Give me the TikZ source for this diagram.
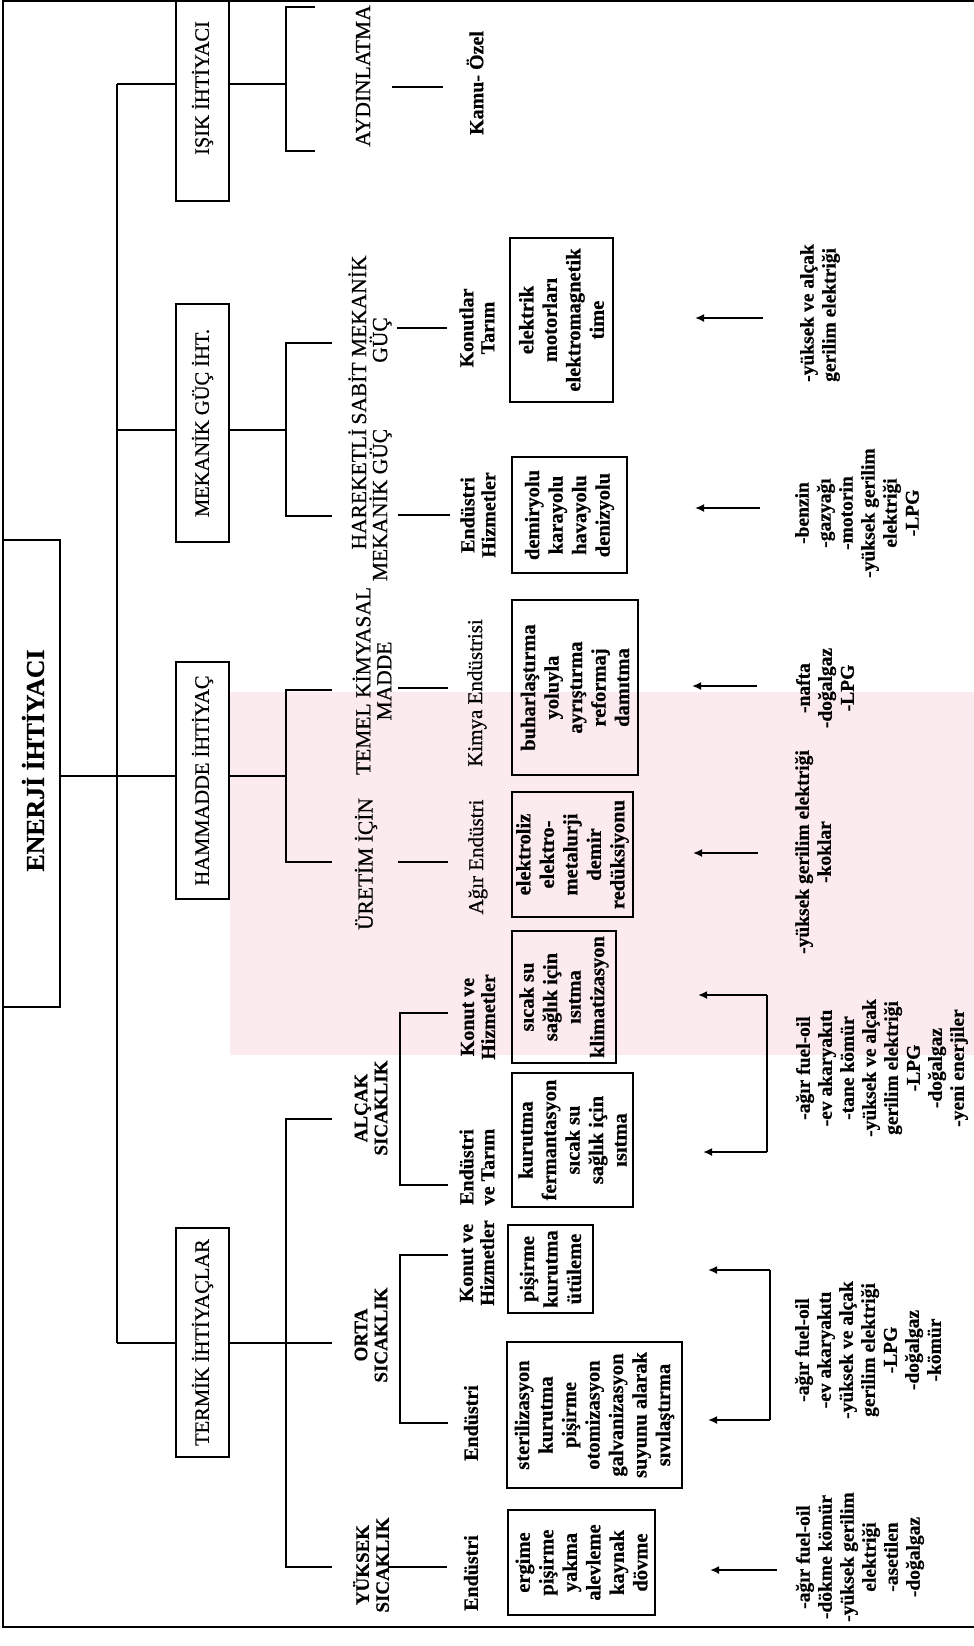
\documentclass[tikz,border=0pt]{standalone}
\usepackage{fontspec}
\setmainfont{Liberation Serif}[UprightFeatures={FakeBold=0.6},BoldFeatures={FakeBold=0.6}]
\usetikzlibrary{arrows.meta}
\definecolor{wmpink}{HTML}{FCEBEE}
\begin{document}
\begin{tikzpicture}[x=1pt,y=1pt,
  ln/.style={line width=1.2pt},
  frameline/.style={line width=2pt},
  lvlbox/.style={draw, line width=1.2pt, rotate=90, inner sep=0pt, minimum height=53pt, font=\fontsize{20.5pt}{24pt}\selectfont},
  lvlboxtext/.style={rotate=90, inner sep=0pt, font=\fontsize{20.5pt}{24pt}\selectfont},
  lvltwo/.style={rotate=90, inner sep=0pt, align=center, font=\fontsize{21.5pt}{21pt}\selectfont},
  lvltwob/.style={rotate=90, inner sep=0pt, align=center, font=\fontsize{19pt}{20pt}\selectfont\bfseries},
  lvlthree/.style={rotate=90, inner sep=0pt, align=center, font=\fontsize{21pt}{21pt}\selectfont},
  lvlthreeb/.style={rotate=90, inner sep=0pt, align=center, font=\fontsize{20pt}{21pt}\selectfont\bfseries},
  itembox/.style={draw, line width=1.2pt, rotate=90, inner sep=0pt, align=center, font=\fontsize{20.5pt}{23.5pt}\selectfont\bfseries},
  srclist/.style={rotate=90, inner sep=0pt, align=center, font=\fontsize{19.5pt}{22pt}\selectfont\bfseries},
  arr/.style={line width=1.8pt, -{Latex[length=9pt,width=8pt]}},
]
\useasboundingbox (0,0) rectangle (974,-1646);
\fill[white] (0,0) rectangle (974,-1646);
% faint watermark of the scanned page
\fill[wmpink] (230,-692) rectangle (974,-1055);
% frame
\draw[frameline] (3,-1) rectangle (990,-1627);

% level 0
\node[draw, line width=1.2pt, rotate=90, minimum width=467pt, minimum height=57pt, inner sep=0pt] (enerji) at (31.5,-773.5) {};
\node[rotate=90, inner sep=0pt, font=\fontsize{25.8pt}{28pt}\selectfont\bfseries] (enerjiT) at (33,-760.5) {ENERJİ İHTİYACI};

% level 1
\node[lvlbox, minimum width=200pt] (isik) at (202.5,-101) {};
\node[lvlboxtext] (isikT) at (202.5,-88) {IŞIK İHTİYACI};
\node[lvlbox, minimum width=238pt] (mekanik) at (202.5,-423) {MEKANİK GÜÇ İHT.};
\node[lvlbox, minimum width=237pt, fill=white] (hammadde) at (202.5,-780.5) {HAMMADDE İHTİYAÇ};
\node[lvlbox, minimum width=229pt] (termik) at (202.5,-1342.5) {TERMİK İHTİYAÇLAR};

% trunk
\coordinate (tTop) at (117,-84);
\coordinate (tMek) at (117,-430);
\coordinate (tHam) at (117,-776);
\coordinate (tBot) at (117,-1343);
\draw[ln] (tTop) -- (tBot);
\draw[ln] (enerji.south |- tHam) -- (tHam) -- (hammadde.north |- tHam);
\draw[ln] (tTop) -- (isik.north |- tTop);
\draw[ln] (tMek) -- (mekanik.north |- tMek);
\draw[ln] (tBot) -- (termik.north |- tBot);

% brackets right of level 1
\coordinate (bI) at (286,-84);
\coordinate (bIt) at (286,-7);   \coordinate (bItE) at (315,-7);
\coordinate (bIb) at (286,-151); \coordinate (bIbE) at (315,-151);
\draw[ln] (isik.south |- bI) -- (bI);
\draw[ln] (bItE) -- (bIt) -- (bIb) -- (bIbE);

\coordinate (bM) at (286,-430);
\coordinate (bMt) at (286,-343); \coordinate (bMtE) at (332,-343);
\coordinate (bMb) at (286,-516); \coordinate (bMbE) at (332,-516);
\draw[ln] (mekanik.south |- bM) -- (bM);
\draw[ln] (bMtE) -- (bMt) -- (bMb) -- (bMbE);

\coordinate (bH) at (286,-776);
\coordinate (bHt) at (286,-690); \coordinate (bHtE) at (332,-690);
\coordinate (bHb) at (286,-862); \coordinate (bHbE) at (332,-862);
\draw[ln] (hammadde.south |- bH) -- (bH);
\draw[ln] (bHtE) -- (bHt) -- (bHb) -- (bHbE);

\coordinate (bTm) at (332,-1343);
\coordinate (bTt) at (286,-1119); \coordinate (bTtE) at (332,-1119);
\coordinate (bTb) at (286,-1567); \coordinate (bTbE) at (332,-1567);
\draw[ln] (termik.south |- bTm) -- (bTm);
\draw[ln] (bTtE) -- (bTt) -- (bTb) -- (bTbE);

% level 2 labels
\node[lvltwo] (aydin) at (363,-76) {AYDINLATMA};
\node[lvltwo] (sabit) at (370,-340) {SABİT MEKANİK\\GÜÇ};
\node[lvltwo, align=right] (hareket) at (370,-505) {HAREKETLİ\\MEKANİK GÜÇ};
\node[lvltwo] (temel) at (372,-681) {TEMEL KİMYASAL\\MADDE};
\node[lvltwo] (uretim) at (366,-864) {ÜRETİM İÇİN};
\node[lvltwob] (alcak) at (371,-1108) {ALÇAK\\SICAKLIK};
\node[lvltwob] (orta) at (371,-1335) {ORTA\\SICAKLIK};
\node[lvltwob] (yuksek) at (371,-1565) {YÜKSEK\\SICAKLIK};

% level 2 -> level 3 connectors
\coordinate (c1a) at (392,-87);  \coordinate (c1b) at (443,-87);
\coordinate (c2a) at (397,-328); \coordinate (c2b) at (447,-328);
\coordinate (c3a) at (398,-515); \coordinate (c3b) at (450,-515);
\coordinate (c4a) at (398,-688); \coordinate (c4b) at (448,-688);
\coordinate (c5a) at (398,-862); \coordinate (c5b) at (448,-862);
\coordinate (c8a) at (388,-1567); \coordinate (c8b) at (447,-1567);
\draw[ln] (c1a) -- (c1b);
\draw[ln] (c2a) -- (c2b);
\draw[ln] (c3a) -- (c3b);
\draw[ln] (c4a) -- (c4b);
\draw[ln] (c5a) -- (c5b);
\draw[ln] (c8a) -- (c8b);
\coordinate (aBt) at (400,-1013); \coordinate (aBtE) at (448,-1013);
\coordinate (aBb) at (400,-1185); \coordinate (aBbE) at (448,-1185);
\draw[ln] (aBtE) -- (aBt) -- (aBb) -- (aBbE);
\coordinate (oBt) at (400,-1255); \coordinate (oBtE) at (448,-1255);
\coordinate (oBb) at (400,-1423); \coordinate (oBbE) at (448,-1423);
\draw[ln] (oBtE) -- (oBt) -- (oBb) -- (oBbE);

% level 3 labels
\node[lvlthreeb] (kamu) at (475,-83) {Kamu- Özel};
\node[lvlthreeb] (konutlar) at (477,-328) {Konutlar\\Tarım};
\node[lvlthreeb] (endhiz) at (478,-515) {Endüstri\\Hizmetler};
\node[lvlthree] (kimya) at (477,-693) {Kimya Endüstrisi};
\node[lvlthree] (agir) at (478,-857) {Ağır Endüstri};
\node[lvlthreeb] (akonut) at (478,-1017) {Konut ve\\Hizmetler};
\node[lvlthreeb] (aend) at (477,-1167) {Endüstri\\ve Tarım};
\node[lvlthreeb] (okonut) at (477,-1263) {Konut ve\\Hizmetler};
\node[lvlthreeb] (oend) at (471,-1423) {Endüstri};
\node[lvlthreeb] (yend) at (471,-1573) {Endüstri};

% level 4 boxes
\node[itembox, minimum width=164pt, minimum height=103pt] (b1) at (561.5,-320) {elektrik\\motorları\\elektromagnetik\\time};
\node[itembox, minimum width=116pt, minimum height=115pt] (b2) at (569.5,-515) {demiryolu\\karayolu\\havayolu\\denizyolu};
\node[itembox, minimum width=175pt, minimum height=126pt] (b3) at (575,-687.5) {buharlaştırma\\yoluyla\\ayrıştırma\\reformaj\\damıtma};
\node[itembox, minimum width=125pt, minimum height=121pt] (b4) at (572.5,-854.5) {elektroliz\\elektro-\\metalurji\\demir\\redüksiyonu};
\node[itembox, minimum width=132pt, minimum height=104pt] (b5) at (564,-997) {sıcak su\\sağlık için\\ısıtma\\klimatizasyon};
\node[itembox, minimum width=134pt, minimum height=121pt] (b6) at (572.5,-1140) {kurutma\\fermantasyon\\sıcak su\\sağlık için\\ısıtma};
\node[itembox, minimum width=88pt, minimum height=85pt] (b7) at (550.5,-1269) {pişirme\\kurutma\\ütüleme};
\node[itembox, minimum width=146pt, minimum height=175pt] (b8) at (594.5,-1415) {sterilizasyon\\kurutma\\pişirme\\otomizasyon\\galvanizasyon\\suyunu alarak\\sıvılaştırma};
\node[itembox, minimum width=105pt, minimum height=147pt] (b9) at (581.5,-1562.5) {ergime\\pişirme\\yakma\\alevleme\\kaynak\\dövme};

% arrows
\coordinate (a1s) at (763,-318);  \coordinate (a1e) at (695,-318);
\coordinate (a2s) at (760,-508);  \coordinate (a2e) at (695,-508);
\coordinate (a3s) at (757,-686);  \coordinate (a3e) at (692,-686);
\coordinate (a4s) at (758,-853);  \coordinate (a4e) at (693,-853);
\coordinate (a5s) at (767,-995);  \coordinate (a5e) at (698,-995);
\coordinate (a6s) at (767,-1152); \coordinate (a6e) at (703,-1152);
\coordinate (a7s) at (770,-1270); \coordinate (a7e) at (708,-1270);
\coordinate (a8s) at (770,-1420); \coordinate (a8e) at (708,-1420);
\coordinate (a9s) at (777,-1570); \coordinate (a9e) at (710,-1570);
\draw[arr] (a1s) -- (a1e);
\draw[arr] (a2s) -- (a2e);
\draw[arr] (a3s) -- (a3e);
\draw[arr] (a4s) -- (a4e);
\draw[line width=1.8pt] (a5s) -- (a6s);
\draw[arr] (a5s) -- (a5e);
\draw[arr] (a6s) -- (a6e);
\draw[line width=1.8pt] (a7s) -- (a8s);
\draw[arr] (a7s) -- (a7e);
\draw[arr] (a8s) -- (a8e);
\draw[arr] (a9s) -- (a9e);

% source lists
\node[srclist, align=left] (l1) at (820,-313) {-yüksek ve alçak\\gerilim elektriği};
\node[srclist] (l2) at (857,-513) {-benzin\\-gazyağı\\-motorin\\-yüksek gerilim\\elektriği\\-LPG};
\node[srclist] (l3) at (825,-688) {-nafta\\-doğalgaz\\-LPG};
\node[srclist] (l4) at (813,-852) {-yüksek gerilim elektriği\\-koklar};
\node[srclist] (l5) at (882,-1068) {-ağır fuel-oil\\-ev akaryakıtı\\-tane kömür\\-yüksek ve alçak\\gerilim elektriği\\-LPG\\-doğalgaz\\-yeni enerjiler};
\node[srclist] (l6) at (868,-1350) {-ağır fuel-oil\\-ev akaryakıtı\\-yüksek ve alçak\\gerilim elektriği\\-LPG\\-doğalgaz\\-kömür};
\node[srclist] (l7) at (860,-1557) {-ağır fuel-oil\\-dökme kömür\\-yüksek gerilim\\elektriği\\-asetilen\\-doğalgaz};
\end{tikzpicture}
\end{document}
